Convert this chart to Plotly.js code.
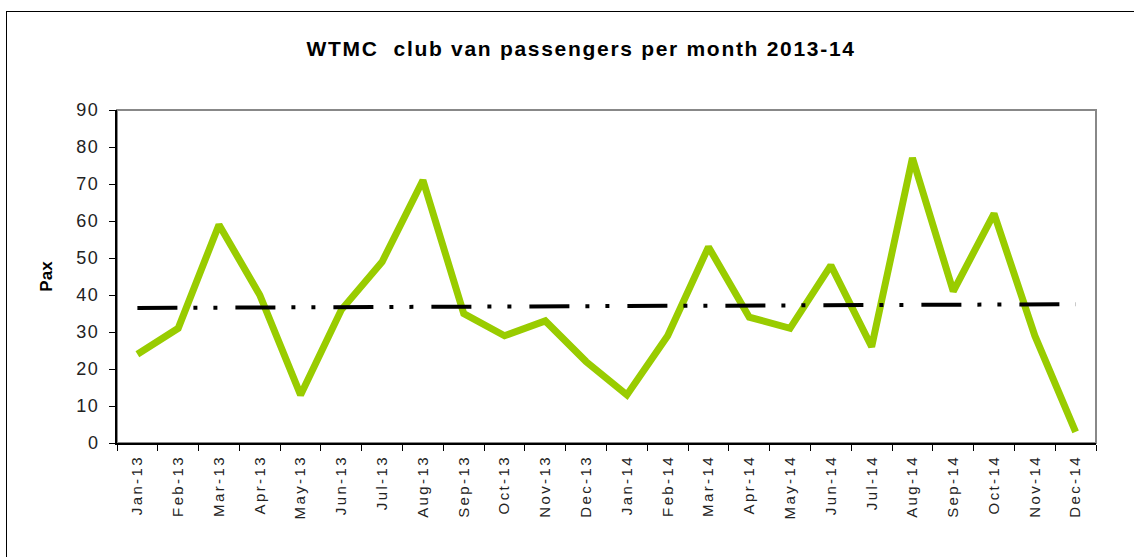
<!DOCTYPE html>
<html>
<head>
<meta charset="utf-8">
<script src="https://cdn.plot.ly/plotly-3.0.1.min.js"></script>
<style>
  body { margin: 0; background: #fff; }
  #frame { position: absolute; left: 6px; top: 11px; width: 1140px; height: 560px; border: 1px solid #000; }
  #chart { position: absolute; left: 0; top: 0; }
  /* the spreadsheet draws its text a bit stretched */
  #chart .gtitle { letter-spacing: 1.7px; }
  #chart .xtick text { letter-spacing: 2.4px; }
  #chart .ytick text { letter-spacing: 1.5px; }
</style>
</head>
<body>
<div id="frame"></div>
<div id="chart"></div>
<script>
var months = ["Jan-13", "Feb-13", "Mar-13", "Apr-13", "May-13", "Jun-13", "Jul-13", "Aug-13", "Sep-13", "Oct-13", "Nov-13", "Dec-13",
              "Jan-14", "Feb-14", "Mar-14", "Apr-14", "May-14", "Jun-14", "Jul-14", "Aug-14", "Sep-14", "Oct-14", "Nov-14", "Dec-14"];
var pax = [24, 31, 59, 40, 13, 36, 49, 71, 35, 29, 33, 22,
           13, 29, 53, 34, 31, 48, 26, 77, 41, 62, 29, 3];

// linear trend line like the one in the spreadsheet
var n = pax.length;
var mx = (n - 1) / 2;
var my = pax.reduce(function(a, b) { return a + b; }, 0) / n;
var sxy = 0, sxx = 0;
pax.forEach(function(v, i) { sxy += (i - mx) * (v - my); sxx += (i - mx) * (i - mx); });
var slope = sxy / sxx;
var trend = pax.map(function(v, i) { return my + slope * (i - mx); });

var paxTrace = {
    x: months,
    y: pax,
    type: "scatter",
    mode: "lines",
    line: {color: "#99cc00", width: 7},
    name: "Pax"
};

var trendTrace = {
    x: months,
    y: trend,
    type: "scatter",
    mode: "lines",
    line: {color: "#000000", width: 4, dash: "40px,16px,4px,16px,4px,18px"},
    name: "Trend"
};

var layout = {
    width: 1134,
    height: 557,
    margin: {l: 117, r: 38, t: 110, b: 114},
    paper_bgcolor: "rgba(0,0,0,0)",
    plot_bgcolor: "rgba(0,0,0,0)",
    showlegend: false,
    font: {family: "Liberation Sans, Arial, sans-serif", color: "#000"},
    title: {
        text: "<b>WTMC \u00a0club van passengers per month 2013-14</b>",
        font: {size: 21, color: "#000"},
        x: 0.474, xref: "paper", xanchor: "center",
        y: 0.912, yref: "container", yanchor: "middle"
    },
    xaxis: {
        type: "category",
        tickangle: -90,
        tickfont: {size: 15, color: "#222"},
        ticks: "outside",
        ticklen: 6,
        ticklabelstandoff: 4,
        tickson: "boundaries",
        tickcolor: "#000",
        showline: true,
        linecolor: "#000",
        linewidth: 2,
        showgrid: false,
        zeroline: false,
        range: [-0.5, 23.5]
    },
    yaxis: {
        title: {text: "<b>Pax</b>", font: {size: 17, color: "#000"}, standoff: 22},
        range: [0, 90],
        dtick: 10,
        tickfont: {size: 18, color: "#222"},
        ticks: "outside",
        ticklen: 6,
        ticklabelstandoff: 6,
        tickcolor: "#000",
        showline: true,
        linecolor: "#000",
        linewidth: 2,
        showgrid: false,
        zeroline: false
    },
    shapes: [{
        type: "rect", xref: "paper", yref: "paper",
        x0: 0, x1: 1, y0: 0, y1: 1,
        line: {color: "#888", width: 2},
        layer: "below"
    }]
};

Plotly.newPlot("chart", [paxTrace, trendTrace], layout, {staticPlot: true});
</script>
</body>
</html>
